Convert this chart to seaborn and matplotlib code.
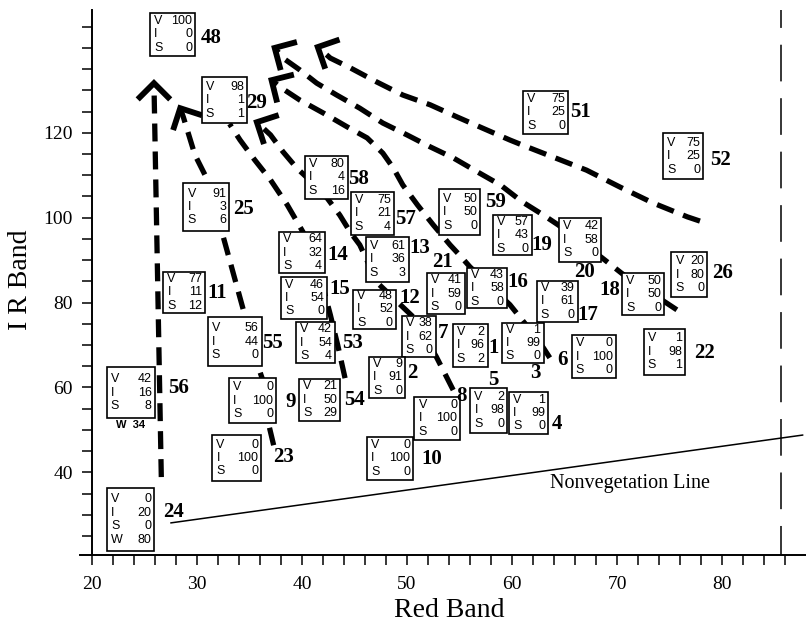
import numpy as np
import matplotlib
matplotlib.use("Agg")
import matplotlib.pyplot as plt
from matplotlib.patches import Rectangle
import seaborn as sns

# sample plots: id, red band, IR band and cover composition (%)
box_ids = [48, 29, 25, 11, 56, 55, 9, 14, 15, 53, 54, 12, 13, 21, 16, 7, 1, 2, 3,
           5, 4, 8, 10, 23, 24, 17, 6, 19, 59, 57, 58, 51, 52, 20, 26, 18, 22]
red_band = [27.7, 32.6, 30.9, 28.8, 23.7, 33.6, 35.3, 40.0, 40.2, 41.3, 41.7, 46.9,
            48.1, 53.7, 57.6, 51.1, 56.0, 48.1, 61.0, 57.8, 61.6, 52.9, 48.4, 33.8,
            23.7, 64.3, 67.8, 60.0, 55.0, 46.7, 42.3, 63.2, 76.3, 66.5, 76.9, 72.5, 74.5]
ir_band = [143.2, 127.7, 102.5, 82.4, 58.8, 70.8, 56.9, 91.8, 81.1, 70.6, 57.1, 78.4,
           90.2, 82.1, 83.4, 72.0, 69.9, 62.4, 70.5, 54.6, 54.0, 52.7, 43.3, 43.4,
           28.9, 80.3, 67.3, 95.9, 101.3, 101.0, 109.5, 124.8, 114.5, 94.8, 86.6, 82.0, 68.4]
veg_pct = [100, 98, 91, 77, 42, 56, 0, 64, 46, 42, 21, 48, 61, 41, 43, 38, 2, 9, 1,
           2, 1, 0, 0, 0, 0, 39, 0, 57, 50, 75, 80, 75, 75, 42, 20, 50, 1]
inv_pct = [0, 1, 3, 11, 16, 44, 100, 32, 54, 54, 50, 52, 36, 59, 58, 62, 96, 91, 99,
           98, 99, 100, 100, 100, 20, 61, 100, 43, 50, 21, 4, 25, 25, 58, 80, 50, 98]
soil_pct = [0, 1, 6, 12, 8, 0, 0, 4, 0, 4, 29, 0, 3, 0, 0, 0, 2, 0, 0,
            0, 0, 0, 0, 0, 0, 0, 0, 0, 0, 4, 16, 0, 0, 0, 0, 0, 1]
water_pct = [0, 0, 0, 0, 34, 0, 0, 0, 0, 0, 0, 0, 0, 0, 0, 0, 0, 0, 0,
             0, 0, 0, 0, 0, 80, 0, 0, 0, 0, 0, 0, 0, 0, 0, 0, 0, 0]

# trajectories (red band, IR band), last point is the arrow tip
arrow_a_red = [26.6, 25.9]
arrow_a_ir = [38.9, 131.7]
arrow_b_red = [37.3, 36.8, 36.2, 35.8, 34.6, 32.4, 31.0, 29.8, 28.7, 28.4]
arrow_b_ir = [46.4, 51.6, 62.2, 65.1, 76.6, 96.4, 108.9, 114.8, 123.7, 125.8]
arrow_c_red = [44.1, 43.4, 42.7, 41.7, 40.1, 38.6, 37.0, 35.5, 34.1, 33.1]
arrow_c_ir = [62.2, 70.0, 77.1, 86.5, 96.6, 103.0, 108.9, 113.6, 118.3, 122.1]
arrow_d_red = [54.4, 52.8, 50.6, 48.9, 47.2, 45.5, 44.6, 43.6, 42.4, 40.5, 39.5, 38.2, 37.0, 35.7]
arrow_d_ir = [59.4, 67.2, 76.6, 80.6, 84.6, 93.6, 96.6, 100.6, 104.6, 109.4, 111.7, 115.5, 119.5, 122.5]
arrow_e_red = [63.6, 63.0, 61.2, 59.8, 56.0, 55.0, 54.1, 52.5, 51.0, 49.6, 48.7, 47.7,
               46.2, 44.3, 42.0, 39.8, 37.9, 37.1]
arrow_e_ir = [67.0, 69.3, 75.2, 79.5, 88.4, 91.2, 93.6, 98.3, 103.0, 107.7, 111.7, 115.2,
              118.8, 121.4, 124.7, 127.7, 130.8, 132.4]
arrow_f_red = [75.7, 70.5, 68.6, 64.4, 63.0, 61.0, 58.9, 56.7, 54.4, 52.2, 50.0, 47.7,
               45.5, 43.3, 41.4, 39.8, 38.2, 37.4]
arrow_f_ir = [78.3, 86.8, 90.5, 98.3, 100.6, 103.7, 107.7, 110.8, 114.1, 116.7, 119.5, 122.3,
              125.8, 128.9, 131.7, 134.8, 137.6, 140.0]
arrow_g_red = [77.9, 76.7, 73.4, 70.3, 67.1, 63.9, 61.0, 59.8, 57.2, 54.8, 52.2, 49.6,
               47.1, 44.6, 42.7, 41.5]
arrow_g_ir = [99.2, 100.2, 103.5, 107.2, 111.2, 114.3, 117.1, 118.3, 121.1, 123.7, 126.6, 128.9,
              132.0, 135.3, 137.6, 140.2]

nonveg_red = [27.5, 87.7]
nonveg_ir = [28.1, 48.8]

# layout: box sizes and id label offsets, in pixels
box_w = [45, 45, 46, 42, 48, 54, 47, 46, 46, 39, 41, 43, 43, 38, 40, 34, 35, 36, 42,
         37, 39, 46, 46, 49, 47, 41, 44, 39, 41, 43, 43, 45, 40, 42, 36, 42, 41]
box_h = [43, 46, 48, 41, 51, 49, 45, 41, 42, 41, 42, 39, 45, 41, 40, 41, 43, 41, 40,
         45, 42, 43, 43, 46, 63, 41, 43, 40, 46, 43, 43, 43, 46, 44, 45, 42, 46]
label_dx = [38.5, 32.5, 37, 33, 48, 38, 37.5, 36, 36, 36.5, 34.5, 35.5, 32.5, -3, 31, 24, 23.5,
            25, 13, 4.5, 28.5, 24, 42, 46.5, 42.5, 30.5, -31, 29.5, 36.5, 33.5, 32.5, 34.5,
            37, 4, 33, -33, 40.5]
label_dy = [3.5, 3, 2, 0.5, -4.5, 1.5, 1.5, 2.5, -9, 0.5, 0, -11.5, -11.5, -31.5, -6, -3.5, 2.5,
            -4.5, 30, -30.5, 11, -22.5, 0.5, -1, -7.5, 13.5, 3.5, 10, -10, 5.5, 1.5, -0.5,
            4, 32, -1.5, -4, 1]
water_inside = [24]

PT = 72 / 100  # px -> points

sns.set_theme(style="ticks")
plt.rcParams["font.family"] = ["Liberation Serif", "DejaVu Serif"]

fig = plt.figure(figsize=(8.06, 6.26), dpi=100)
ax = fig.add_axes([80 / 806, 1 - 555 / 626, 726 / 806, 545 / 626])
ax.set_xlim(18.857, 88.0)
ax.set_ylim(20.54, 148.93)

for side in ["top", "right"]:
    ax.spines[side].set_visible(False)
ax.spines["left"].set_position(("data", 20))
for side in ["left", "bottom"]:
    ax.spines[side].set_linewidth(1.4)
    ax.spines[side].set_color("black")

xt = np.arange(20, 87, 2)
ax.set_xticks(xt, [str(t) if t % 10 == 0 and t <= 80 else "" for t in xt])
yt = np.arange(25, 146, 5)
ax.set_yticks(yt, [str(t) if t % 20 == 0 and 40 <= t <= 120 else "" for t in yt])
ax.tick_params(direction="out", length=7.2, width=1.1, color="black", labelsize=14, labelcolor="black")
ax.tick_params(axis="x", pad=8)
ax.tick_params(axis="y", pad=6.5)

ax.set_xlabel("Red Band", fontsize=20, color="black")
ax.xaxis.set_label_coords(0.508, -0.079)
ax.set_ylabel("I R Band", fontsize=20, color="black")
ax.yaxis.set_label_coords(-0.065, 0.505)

# nonvegetation line and the dashed vertical line
sns.lineplot(x=nonveg_red, y=nonveg_ir, color="black", lw=1.1, ax=ax)
ax.text(63.6, 36.3, "Nonvegetation Line", fontsize=14.5, va="baseline", color="black")
ax.axvline(85.6, color="black", lw=1.1, linestyle=(5, (24, 11)), zorder=1)


def draw_head(x, y, angle):
    tip = ax.transData.transform((x, y))
    ends = []
    for da in (45, -45):
        a = np.radians(angle + 180 + da)
        ends.append(tip + 23 * np.array([np.cos(a), np.sin(a)]))
    pts = ax.transData.inverted().transform(np.array([ends[0], tip, ends[1]]))
    ax.plot(pts[:, 0], pts[:, 1], color="black", lw=4.2,
            solid_joinstyle="miter", solid_capstyle="butt", zorder=2)


arrows = [
    (arrow_a_red, arrow_a_ir, 90),
    (arrow_b_red, arrow_b_ir, 117),
    (arrow_c_red, arrow_c_ir, None),
    (arrow_d_red, arrow_d_ir, 153),
    (arrow_e_red, arrow_e_ir, 149),
    (arrow_f_red, arrow_f_ir, 150),
    (arrow_g_red, arrow_g_ir, 154),
]
for xs, ys, head in arrows:
    sns.lineplot(x=xs, y=ys, sort=False, estimator=None, color="black", lw=3.8,
                 linestyle=(0, (3.4, 1.9)), ax=ax, zorder=2)
    if head is not None:
        draw_head(xs[-1], ys[-1], head)

# pixel size of one data unit
o = ax.transData.transform((0, 0))
sx = ax.transData.transform((1, 0))[0] - o[0]
sy = ax.transData.transform((0, 1))[1] - o[1]

box_font = dict(fontsize=9, family="Liberation Sans", color="black", zorder=4,
                textcoords="offset points", va="center")

for i, bid in enumerate(box_ids):
    x, y = red_band[i], ir_band[i]
    w, h = box_w[i], box_h[i]
    ax.add_patch(Rectangle((x - w / 2 / sx, y - h / 2 / sy), w / sx, h / sy,
                           fc="white", ec="black", lw=1.2, zorder=3))
    rows = [("V", veg_pct[i]), ("I", inv_pct[i]), ("S", soil_pct[i])]
    if water_pct[i] and bid in water_inside:
        rows.append(("W", water_pct[i]))
    n = len(rows)
    for k, (letter, val) in enumerate(rows):
        off = (k - (n - 1) / 2) * 13.4
        ax.annotate(letter, (x, y), xytext=((-w / 2 + 4) * PT, -off * PT), ha="left", **box_font)
        ax.annotate(str(val), (x, y), xytext=((w / 2 - 3) * PT, -off * PT), ha="right", **box_font)
    if water_pct[i] and bid not in water_inside:
        ax.annotate(f"W  {water_pct[i]}", (x, y), xytext=(0, -(h / 2 + 7) * PT),
                    textcoords="offset points", ha="center", va="center", fontsize=8,
                    fontweight="bold", family="Liberation Sans", color="black")
    ax.annotate(str(bid), (x, y), xytext=(label_dx[i] * PT, -label_dy[i] * PT),
                textcoords="offset points", ha="center", va="center", fontsize=15,
                fontweight="bold", family="Liberation Serif", color="black", zorder=4)

fig.savefig("out.png", dpi=100)
